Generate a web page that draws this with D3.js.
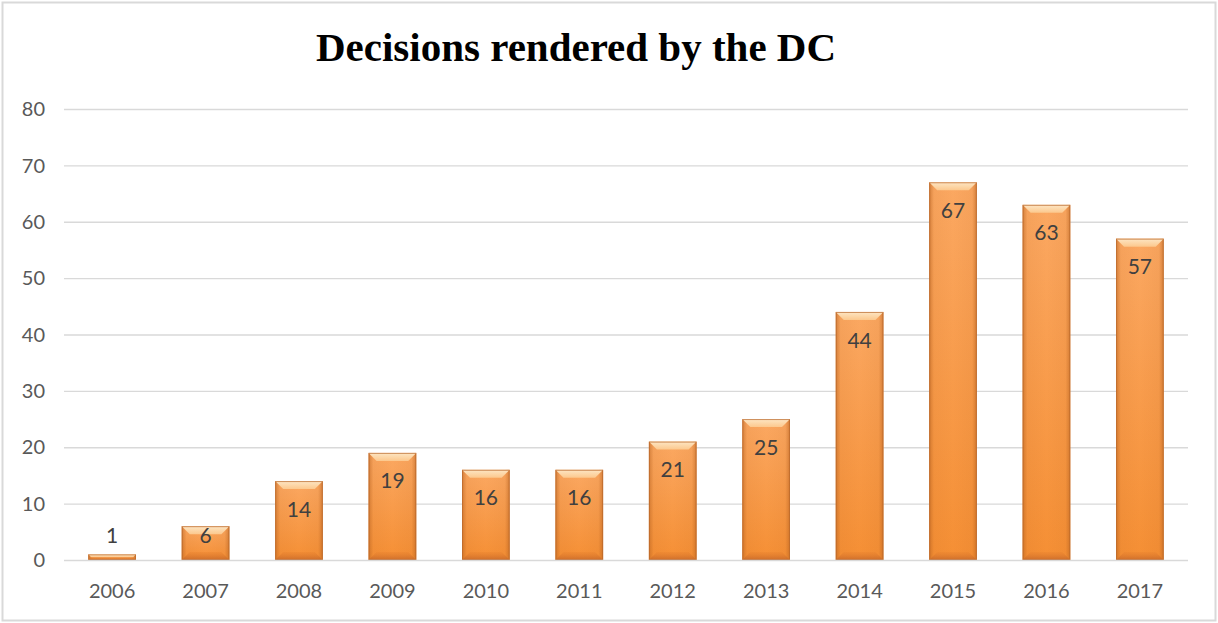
<!DOCTYPE html>
<html>
<head>
<meta charset="utf-8">
<script src="https://cdn.jsdelivr.net/npm/d3@7"></script>
<style>
  html, body { margin: 0; padding: 0; background: #fff; }
  svg { display: block; }
</style>
</head>
<body>
<div id="chart"></div>
<script>
const years = ["2006", "2007", "2008", "2009", "2010", "2011", "2012", "2013", "2014", "2015", "2016", "2017"];
const decisions = [1, 6, 14, 19, 16, 16, 21, 25, 44, 67, 63, 57];
const yTicks = [0, 10, 20, 30, 40, 50, 60, 70, 80];
const chartTitle = "Decisions rendered by the DC";

const W = 1218, H = 623;
const margin = { top: 109, right: 30, bottom: 63, left: 64 };
const font = "Lato, 'Open Sans', sans-serif";

const svg = d3.select("#chart").append("svg")
    .attr("width", W)
    .attr("height", H);

// cadre extérieur
svg.append("rect")
   .attr("x", 2.5).attr("y", 2.5)
   .attr("width", W - 5).attr("height", H - 5)
   .attr("fill", "#fff")
   .attr("stroke", "#d9d9d9")
   .attr("stroke-width", 2);

const defs = svg.append("defs");

const bodyGrad = defs.append("linearGradient").attr("id", "bodyFill")
    .attr("x1", "0%").attr("x2", "0%").attr("y1", "0%").attr("y2", "100%");
bodyGrad.append("stop").attr("offset", "0%").attr("stop-color", "#fba862");
bodyGrad.append("stop").attr("offset", "100%").attr("stop-color", "#f58f34");

const sideGrad = defs.append("linearGradient").attr("id", "sideFill")
    .attr("x1", "0%").attr("x2", "100%").attr("y1", "0%").attr("y2", "0%");
sideGrad.append("stop").attr("offset", "0%").attr("stop-color", "#b5601f").attr("stop-opacity", 0.55);
sideGrad.append("stop").attr("offset", "10%").attr("stop-color", "#b5601f").attr("stop-opacity", 0.08);
sideGrad.append("stop").attr("offset", "50%").attr("stop-color", "#b5601f").attr("stop-opacity", 0);
sideGrad.append("stop").attr("offset", "90%").attr("stop-color", "#b5601f").attr("stop-opacity", 0.08);
sideGrad.append("stop").attr("offset", "100%").attr("stop-color", "#b5601f").attr("stop-opacity", 0.55);

const topGrad = defs.append("linearGradient").attr("id", "topFill")
    .attr("x1", "0%").attr("x2", "0%").attr("y1", "0%").attr("y2", "100%");
topGrad.append("stop").attr("offset", "0%").attr("stop-color", "#fde6c4");
topGrad.append("stop").attr("offset", "100%").attr("stop-color", "#fcc88d");

const botGrad = defs.append("linearGradient").attr("id", "botFill")
    .attr("x1", "0%").attr("x2", "0%").attr("y1", "0%").attr("y2", "100%");
botGrad.append("stop").attr("offset", "0%").attr("stop-color", "#e9832f").attr("stop-opacity", 0.4);
botGrad.append("stop").attr("offset", "100%").attr("stop-color", "#c8692a").attr("stop-opacity", 0.9);

const g = svg.append("g")
    .attr("transform", `translate(${margin.left},${margin.top})`);

const width = W - margin.left - margin.right;
const height = H - margin.top - margin.bottom;

const x = d3.scaleBand().domain(years).range([0, width]).paddingInner(0.49).paddingOuter(0.26);
const y = d3.scaleLinear().domain([0, 80]).range([height, 0]);

// lignes de grille
g.append("g")
 .selectAll("line")
 .data(yTicks.filter(d => d > 0))
 .join("line")
   .attr("x1", 0).attr("x2", width)
   .attr("y1", d => y(d) + 0.5).attr("y2", d => y(d) + 0.5)
   .attr("stroke", "#d9d9d9")
   .attr("stroke-width", 1.3);

// étiquettes de l'axe y
g.append("g")
 .selectAll("text")
 .data(yTicks)
 .join("text")
   .attr("x", -19)
   .attr("y", d => y(d))
   .attr("dy", "0.36em")
   .attr("text-anchor", "end")
   .attr("fill", "#595959")
   .style("font-family", font)
   .style("font-size", "20px")
   .text(d => d);

const data = years.map((yr, i) => ({ year: yr, value: decisions[i] }));

const bars = g.append("g").selectAll("g").data(data).join("g");

const bev = 8;
bars.append("rect")
    .attr("x", d => x(d.year))
    .attr("y", d => y(d.value))
    .attr("width", x.bandwidth())
    .attr("height", d => height - y(d.value))
    .attr("fill", "url(#bodyFill)");

bars.append("rect")
    .attr("x", d => x(d.year))
    .attr("y", d => y(d.value))
    .attr("width", x.bandwidth())
    .attr("height", d => height - y(d.value))
    .attr("fill", "url(#sideFill)");

// biseau du haut
bars.append("path")
    .attr("d", d => {
        const x0 = x(d.year), x1 = x0 + x.bandwidth();
        const y0 = y(d.value);
        const b = Math.min(bev, (height - y0) / 2);
        return `M${x0},${y0}L${x1},${y0}L${x1 - b},${y0 + b}L${x0 + b},${y0 + b}Z`;
    })
    .attr("fill", "url(#topFill)");

// biseau du bas
bars.append("path")
    .attr("d", d => {
        const x0 = x(d.year), x1 = x0 + x.bandwidth();
        const y0 = y(d.value);
        const b = Math.min(bev, (height - y0) / 2);
        return `M${x0},${height}L${x1},${height}L${x1 - b},${height - b}L${x0 + b},${height - b}Z`;
    })
    .attr("fill", "url(#botFill)");

bars.append("rect")
    .attr("x", d => x(d.year) + 0.5)
    .attr("y", d => y(d.value) + 0.5)
    .attr("width", x.bandwidth() - 1)
    .attr("height", d => height - y(d.value) - 1)
    .attr("fill", "none")
    .attr("stroke", "#b8672b")
    .attr("stroke-opacity", 0.7)
    .attr("stroke-width", 1);

// ligne zéro
g.append("line")
 .attr("x1", 0).attr("x2", width)
 .attr("y1", height + 0.5).attr("y2", height + 0.5)
 .attr("stroke", "#d9d9d9")
 .attr("stroke-width", 1.5);

// étiquettes des valeurs
bars.append("text")
    .attr("x", d => x(d.year) + x.bandwidth() / 2)
    .attr("y", d => {
        const h = height - y(d.value);
        if (h < 20) return y(d.value) - 19;
        return y(d.value) + Math.min(28, h / 2 - 8);
    })
    .attr("dy", "0.36em")
    .attr("text-anchor", "middle")
    .attr("fill", "#404040")
    .style("font-family", font)
    .style("font-size", "21px")
    .text(d => d.value);

// étiquettes de l'axe x
g.append("g")
 .selectAll("text")
 .data(years)
 .join("text")
   .attr("x", d => x(d) + x.bandwidth() / 2)
   .attr("y", height + 31)
   .attr("dy", "0.36em")
   .attr("text-anchor", "middle")
   .attr("fill", "#595959")
   .style("font-family", font)
   .style("font-size", "20px")
   .text(d => d);

// titre
svg.append("text")
   .attr("x", 576)
   .attr("y", 61)
   .attr("text-anchor", "middle")
   .attr("fill", "#000")
   .style("font-family", "'Liberation Serif', serif")
   .style("font-weight", "bold")
   .style("font-size", "41px")
   .text(chartTitle);
</script>
</body>
</html>
